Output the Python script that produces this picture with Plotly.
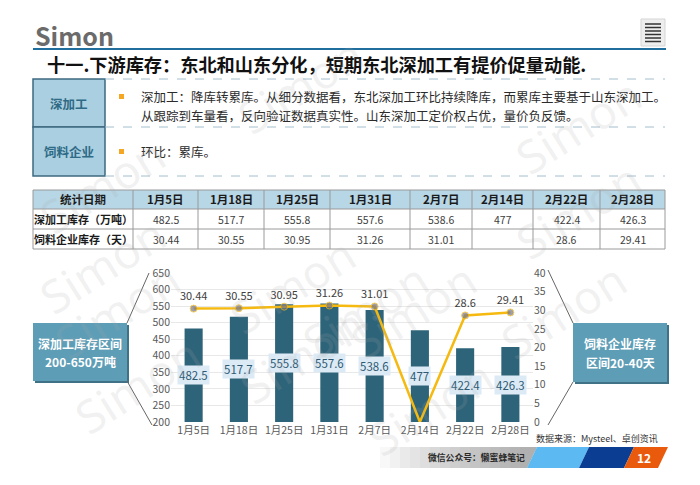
import plotly.graph_objects as go

# ---- data ----
dates = ["1月5日", "1月18日", "1月25日", "1月31日", "2月7日", "2月14日", "2月22日", "2月28日"]
deep_stock = [482.5, 517.7, 555.8, 557.6, 538.6, 477, 422.4, 426.3]      # 万吨
feed_days = [30.44, 30.55, 30.95, 31.26, 31.01, None, 28.6, 29.41]       # 天
# the chart line drops to 0 where the table is empty
feed_line = [v if v is not None else 0 for v in feed_days]

title_text = "十一.下游库存：东北和山东分化，短期东北深加工有提价促量动能."
deep_lines = ["深加工：降库转累库。从细分数据看，东北深加工环比持续降库，而累库主要基于山东深加工。",
              "从跟踪到车量看，反向验证数据真实性。山东深加工定价权占优，量价负反馈。"]
feed_lines = ["环比：累库。"]
row_labels = ["统计日期", "深加工库存（万吨）", "饲料企业库存（天）"]

# the page body has an 8px margin, so the figure is the visible part of the window
OFF = 8
W, H = 700 - OFF, 485 - OFF
FONT = "Noto Sans CJK SC"
BAR = "#2E6479"
GOLD = "#F5B90F"


def X(p):
    return (p - OFF) / W


def Y(p):
    return 1 - (p - OFF) / H


shapes = []
annotations = []


def rect(x0, y0, x1, y1, fill, line=None, lw=1, layer="below"):
    shapes.append(dict(type="rect", xref="paper", yref="paper", x0=X(x0), x1=X(x1),
                       y0=Y(y1), y1=Y(y0), fillcolor=fill, layer=layer,
                       line=dict(color=line or "rgba(0,0,0,0)", width=lw if line else 0)))


def seg(x0, y0, x1, y1, color, width=1, dash=None):
    shapes.append(dict(type="line", xref="paper", yref="paper", x0=X(x0), x1=X(x1),
                       y0=Y(y0), y1=Y(y1), line=dict(color=color, width=width, dash=dash)))


def poly(pts, fill):
    d = "M " + " L ".join(f"{X(a):.5f},{Y(b):.5f}" for a, b in pts) + " Z"
    shapes.append(dict(type="path", xref="paper", yref="paper", path=d,
                       fillcolor=fill, line=dict(width=0)))


def text(x, y, s, size=12, color="#333333", bold=False, anchor="left", **kw):
    annotations.append(dict(xref="paper", yref="paper", x=X(x), y=Y(y), text=f"<b>{s}</b>" if bold else s,
                            showarrow=False, xanchor=anchor, yanchor="middle",
                            font=dict(family=FONT, size=size, color=color), **kw))


# ---- header ----
text(33, 35, "Simon", size=25, color="#6B6B6B", bold=True)
seg(33, 49, 666, 49, "#1F6E9E", 2)
rect(641, 19, 665, 46, "#EEEEEE", "#D5D5D5")
for i in range(6):
    seg(645, 24 + i * 3.5, 661, 24 + i * 3.5, "#333333", 1.5)
text(45, 64, title_text, size=18.2, color="#111111", bold=True)

# ---- comment block ----
rect(33, 79, 105, 127, "#A9CFE0", "#3E6A80", 1.5)
rect(33, 127, 105, 176, "#A9CFE0", "#3E6A80", 1.5)
for yy in (79, 127, 176):
    seg(105, yy, 665, yy, "#A3BECC", 1, "dash")
text(69, 103, "深加工", size=12.5, color="#2F6A86", bold=True, anchor="center")
text(69, 152, "饲料企业", size=12.5, color="#2F6A86", bold=True, anchor="center")
rect(119, 94, 124, 99, "#F5A623")
rect(119, 149, 124, 154, "#F5A623")
for i, ln in enumerate(deep_lines):
    text(139, 96.5 + i * 18.5, ln, size=12.5, color="#2B2B2B")
text(139, 152, feed_lines[0], size=12.5, color="#2B2B2B")

# ---- data table ----
col_edges = [33, 133, 198, 264, 330, 410, 472, 533, 600, 665]
row_edges = [190, 209, 229, 249]
rect(33, 190, 665, 209, "#B7D6E6")
for xe in col_edges:
    seg(xe, 190, xe, 249, "#9A9A9A", 1)
for ye in row_edges:
    seg(33, ye, 665, ye, "#9A9A9A", 1)
for r, lab in enumerate(row_labels):
    cy = (row_edges[r] + row_edges[r + 1]) / 2
    text((col_edges[0] + col_edges[1]) / 2, cy, lab, size=11 if r else 11.5,
         color="#1A1A1A", bold=True, anchor="center")
for c, d in enumerate(dates):
    cx = (col_edges[c + 1] + col_edges[c + 2]) / 2
    text(cx, 199.5, d, size=11.5, color="#1A1A1A", bold=True, anchor="center")
    text(cx, 219, f"{deep_stock[c]:g}", size=10.5, color="#404040", anchor="center")
    if feed_days[c] is not None:
        text(cx, 239, f"{feed_days[c]:g}", size=10.5, color="#404040", anchor="center")

# ---- callouts ----
rect(35, 325, 129, 383, "#3F7187")
rect(33, 323, 127, 381, "#5E9DB6")
text(80, 343, "深加工库存区间", size=12, color="white", bold=True, anchor="center")
text(80, 361, "200-650万吨", size=12, color="white", bold=True, anchor="center")
seg(127, 323, 149, 273, "#666666", 1)
seg(127, 381, 152, 425, "#666666", 1)

rect(575, 325, 669, 384, "#3F7187")
rect(573, 323, 667, 382, "#5E9DB6")
text(620, 343, "饲料企业库存", size=12, color="white", bold=True, anchor="center")
text(620, 362, "区间20-40天", size=12, color="white", bold=True, anchor="center")
seg(573, 323, 548, 270, "#666666", 1)
seg(573, 382, 548, 425, "#666666", 1)

# ---- footer ----
text(660, 438, "数据来源：Mysteel、卓创资讯", size=9, color="#333333", anchor="right")
for i in range(15):
    xs = 380 + i * 10
    poly([(xs, 447), (537, 447), (527, 468), (xs, 468)], "rgba(110,110,110,0.05)")
poly([(537, 447), (589, 447), (579, 468), (527, 468)], "#5CB9F2")
poly([(589, 447), (634, 447), (624, 468), (579, 468)], "#0B3E93")
poly([(634, 447), (668, 447), (658, 468), (624, 468)], "#E95A0C")
text(476, 457.5, "微信公众号：懒蜜蜂笔记", size=8.8, color="#2B2B2B", bold=True, anchor="center")
text(644, 457.5, "12", size=12, color="white", bold=True, anchor="center")

# ---- chart ----
fig = go.Figure()
fig.add_trace(go.Bar(x=dates, y=deep_stock, marker=dict(color=BAR, line=dict(width=0)),
                     hoverinfo="skip", showlegend=False))
fig.add_trace(go.Scatter(
    x=dates, y=feed_line, yaxis="y2", mode="lines+markers+text",
    line=dict(color=GOLD, width=2.5),
    marker=dict(color="#76768A", size=[0 if v is None else 7 for v in feed_days]),
    text=["" if v is None else f"{v:g}" for v in feed_days],
    textposition="top center", textfont=dict(family=FONT, size=11, color="#404040"),
    cliponaxis=False, showlegend=False))

for d, v in zip(dates, deep_stock):
    annotations.append(dict(xref="x", yref="y", x=d, y=(200 + v) / 2, text=f"{v:g}",
                            showarrow=False, bgcolor="#DCEAF6", borderpad=1,
                            font=dict(family=FONT, size=11.5, color="#2F5A72")))

# watermarks
marks = [(300, 20), (655, 60), (25, 120), (655, 210), (25, 265),
         (215, 285), (365, 310), (640, 310), (40, 375), (225, 420), (490, 375), (60, 450), (430, 472)]
for mx, my in marks:
    annotations.append(dict(xref="paper", yref="paper", x=X(mx), y=Y(my), text="Simon",
                            showarrow=False, textangle=-32,
                            font=dict(family="Noto Sans", size=46, color="rgba(170,170,170,0.16)")))

fig.update_layout(
    width=W, height=H, template="none",
    margin=dict(l=0, r=0, t=0, b=0),
    paper_bgcolor="white", plot_bgcolor="white",
    bargap=0.6,
    font=dict(family=FONT, size=10.5, color="#595959"),
    xaxis=dict(domain=[X(171), X(533)], showgrid=False, showline=False, ticks="",
               tickfont=dict(size=10.5, color="#595959"), automargin=False),
    yaxis=dict(domain=[Y(422), Y(273)], range=[200, 650], dtick=50, showgrid=True,
               gridcolor="#E8E8E8", gridwidth=1, zeroline=False, showline=False, ticks="",
               tickfont=dict(size=10.5, color="#595959"), automargin=False),
    yaxis2=dict(overlaying="y", side="right", range=[0, 40], dtick=5, showgrid=False,
                zeroline=False, showline=False, ticks="",
                tickfont=dict(size=10.5, color="#595959"), automargin=False),
    shapes=shapes,
    annotations=annotations,
)

fig.write_html("out.html")
